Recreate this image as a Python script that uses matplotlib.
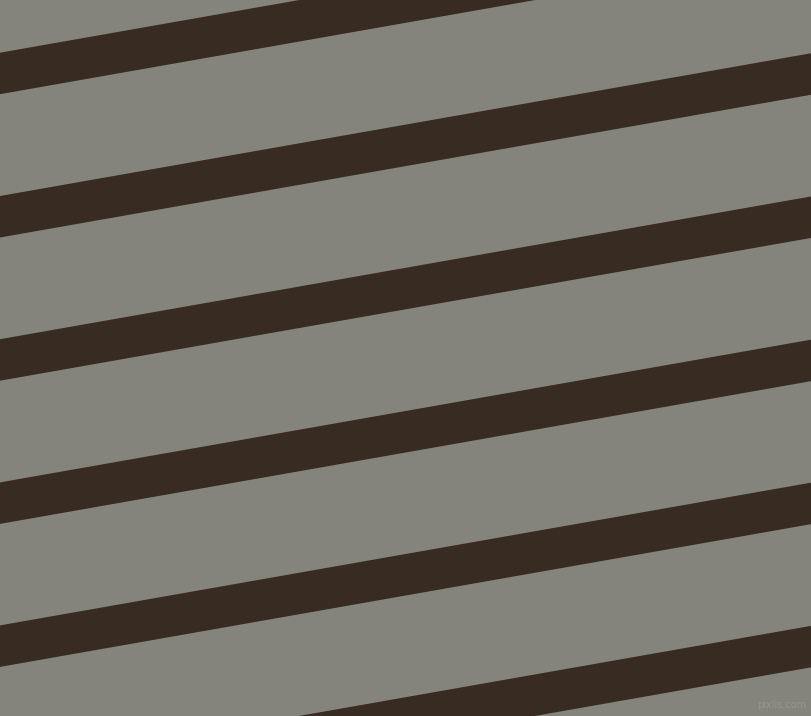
import numpy as np
import matplotlib
matplotlib.use('Agg')
import matplotlib.pyplot as plt

# stripe data (pixel units, measured at the left edge)
stripe_tops = [-90.5, 52.7, 196.0, 339.2, 482.4, 625.4, 768.6]
stripe_width = 41.5
slope = 0.176  # y drop per pixel of x

bg_color = '#84847c'
stripe_color = '#382b22'

W, H = 812, 716

fig = plt.figure(figsize=(W / 100, H / 100), dpi=100)
ax = fig.add_axes([0, 0, 1, 1])
ax.set_xlim(0, W)
ax.set_ylim(H, 0)
ax.set_facecolor(bg_color)
ax.axis('off')
fig.patch.set_facecolor(bg_color)

x = np.array([-10, W + 10])
for top in stripe_tops:
    y_top = top - slope * x
    ax.fill_between(x, y_top, y_top + stripe_width, color=stripe_color, lw=0)

ax.text(W - 6, H - 6, 'pixlis.com', ha='right', va='bottom', fontsize=7,
        color='#9a9a92', alpha=0.8)

fig.savefig('out.png', dpi=100, facecolor=bg_color)
